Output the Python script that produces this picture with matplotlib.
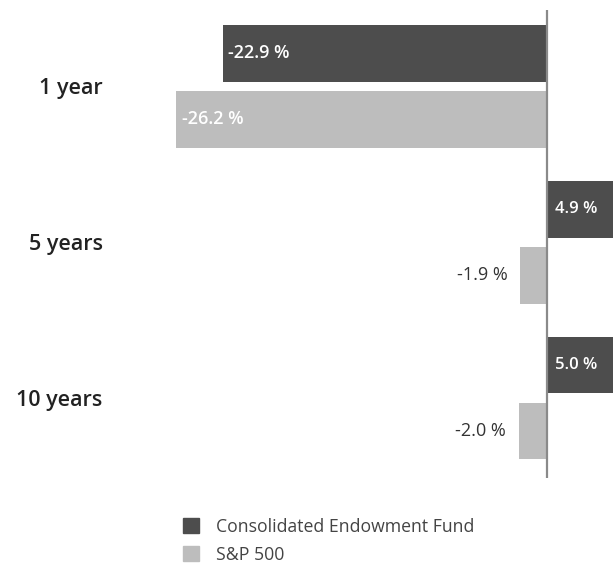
import matplotlib.pyplot as plt
import matplotlib.patches as mpatches
import numpy as np

periods = ["1 year", "5 years", "10 years"]
fund = [-22.9, 4.9, 5.0]      # Consolidated Endowment Fund, %
sp500 = [-26.2, -1.9, -2.0]   # S&P 500, %
series_names = ["Consolidated Endowment Fund", "S&P 500"]

dark = "#4d4d4d"
light = "#bdbdbd"
plt.rcParams['font.family'] = ['Open Sans', 'DejaVu Sans']

fig = plt.figure(figsize=(6.13, 5.80), dpi=100)
ax = fig.add_axes([118 / 613, 102 / 580, 1 - 118 / 613, 468 / 580])

y = np.arange(len(periods))
h = 0.365
off = 0.212
ax.barh(y - off, fund, height=h, color=dark)
ax.barh(y + off, sp500, height=h, color=light)

ax.set_xlim(-30.3, 4.66)
ax.set_ylim(2.514, -0.491)
ax.axvline(0, color="#8a8a8a", lw=1.6)

for spine in ax.spines.values():
    spine.set_visible(False)
ax.set_xticks([])
ax.set_yticks(y)
ax.set_yticklabels(periods, fontsize=15.5, fontweight="semibold", color="#222222")
ax.tick_params(axis="y", length=0, pad=11)

def put_label(val, ypos, big):
    txt = f"{val:.1f} %"
    if val < 0 and big:
        ax.annotate(txt, (val, ypos), xytext=(4, 0), textcoords="offset points",
                    ha="left", va="center", color="white", fontsize=13, fontweight="semibold")
    elif val < 0:
        ax.annotate(txt, (val, ypos), xytext=(-9, 0), textcoords="offset points",
                    ha="right", va="center", color="#333333", fontsize=13)
    else:
        ax.annotate(txt, (0, ypos), xytext=(6, 0), textcoords="offset points",
                    ha="left", va="center", color="white", fontsize=12, fontweight="semibold")

for i in range(len(periods)):
    put_label(fund[i], y[i] - off, abs(fund[i]) > 4)
    put_label(sp500[i], y[i] + off, abs(sp500[i]) > 4)

handles = [mpatches.Patch(color=dark), mpatches.Patch(color=light)]
fig.legend(handles, series_names, loc="upper left", bbox_to_anchor=(167 / 613, 1 - 502 / 580),
           frameon=False, fontsize=12.7, handlelength=0.9, handleheight=0.9,
           labelspacing=0.55, handletextpad=1.0, labelcolor="#444444")

fig.savefig("out.png", dpi=100)
